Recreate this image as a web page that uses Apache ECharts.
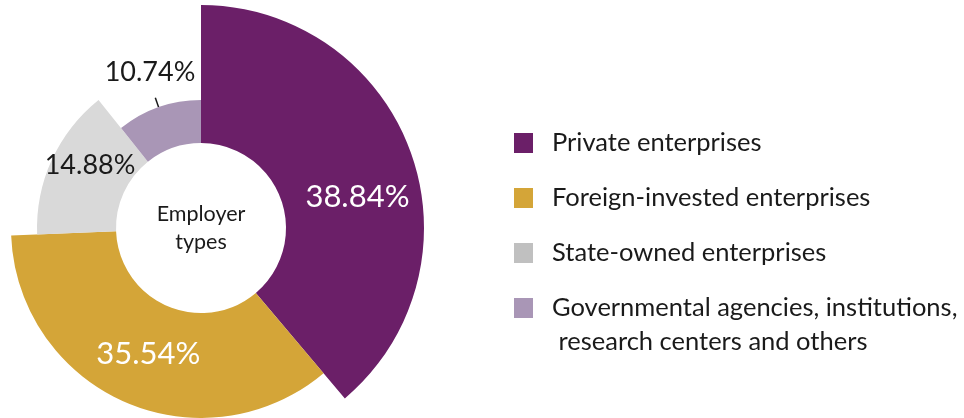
<!DOCTYPE html>
<html>
<head>
<meta charset="utf-8">
<script src="https://cdn.jsdelivr.net/npm/echarts@6/dist/echarts.min.js"></script>
<style>
  html, body { margin: 0; padding: 0; background: #ffffff; }
  #chart { width: 964px; height: 418px; }
</style>
</head>
<body>
<div id="chart"></div>
<script>
// Employer types and their shares (%)
const categories = [
  'Private enterprises',
  'Foreign-invested enterprises',
  'State-owned enterprises',
  'Governmental agencies, institutions,\n research centers and others'
];
const shares = [38.84, 35.54, 14.88, 10.74];
const centerTitle = 'Employer\ntypes';

// Styling per slice
const sliceColors = ['#6b1f68', '#d4a538', '#d9d9d9', '#a996b6'];
const swatchColors = ['#6b1f68', '#d4a538', '#c0c0c0', '#a996b6'];
const outerRadii = [223, 190, 164, 128];
const innerRadius = 85;
const pieCenter = [201, 228];
const labelColors = ['#ffffff', '#ffffff', '#1a1a1a', '#1a1a1a'];
const labelSizes = [31, 31, 27, 27];
const labelShift = [[9, 23], [4, -3], [5, -10], [45, -25]];

const FONT = 'Lato';
const LEGEND_LINE = 34;

// One pie per slice so each slice gets its own outer radius;
// the other slices in that pie are left transparent.
const pies = shares.map(function (v, k) {
  return {
    type: 'pie',
    center: pieCenter,
    radius: [innerRadius, outerRadii[k]],
    startAngle: 90,
    clockwise: true,
    avoidLabelOverlap: false,
    silent: true,
    emphasis: { disabled: true },
    itemStyle: { borderWidth: 0 },
    labelLayout: { dx: labelShift[k][0], dy: labelShift[k][1] },
    data: categories.map(function (name, i) {
      const own = i === k;
      return {
        name: name,
        value: shares[i],
        itemStyle: { color: own ? sliceColors[k] : 'rgba(0,0,0,0)', borderWidth: 0 },
        label: own ? {
          show: true,
          position: k === 3 ? 'outside' : 'inside',
          formatter: '{c}%',
          color: labelColors[k],
          fontSize: labelSizes[k],
          fontFamily: FONT
        } : { show: false },
        labelLine: (own && k === 3) ? {
          show: true, length: 10, length2: 0,
          lineStyle: { color: '#1a1a1a', width: 1.5 }
        } : { show: false }
      };
    })
  };
});

// Legend text: a fixed-width spacer token widens the gap after the swatch
const legendText = {
  fontFamily: FONT, fontSize: 25.5, color: '#1a1a1a', lineHeight: LEGEND_LINE,
  rich: { g: { width: 14, lineHeight: LEGEND_LINE } }
};
function spaced(name) {
  return name.split('\n').map(function (l) { return '{g|}' + l; }).join('\n');
}

const option = {
  animation: false,
  textStyle: { fontFamily: FONT },
  legend: [
    {
      orient: 'vertical',
      left: 514, top: 126, padding: 0,
      itemWidth: 19, itemHeight: 20, itemGap: 21,
      icon: 'rect',
      textStyle: legendText,
      formatter: spaced,
      data: categories.slice(0, 3).map(function (name, i) {
        return { name: name, itemStyle: { color: swatchColors[i] } };
      })
    },
    {
      // two-line entry: a blank leading line keeps the swatch beside the first line
      orient: 'vertical',
      left: 514, top: 257, padding: 0,
      itemWidth: 19, itemHeight: 20,
      icon: 'rect',
      textStyle: legendText,
      formatter: function (name) { return '{g|}\n' + spaced(name); },
      data: [{ name: categories[3], itemStyle: { color: swatchColors[3] } }]
    }
  ],
  graphic: [{
    type: 'text',
    x: pieCenter[0], y: pieCenter[1],
    style: {
      text: centerTitle,
      align: 'center', verticalAlign: 'middle',
      fontFamily: FONT, fontSize: 21.5, lineHeight: 28, fill: '#1a1a1a'
    }
  }],
  series: pies
};

const chart = echarts.init(document.getElementById('chart'), null, { renderer: 'canvas' });
chart.setOption(option);
</script>
</body>
</html>
